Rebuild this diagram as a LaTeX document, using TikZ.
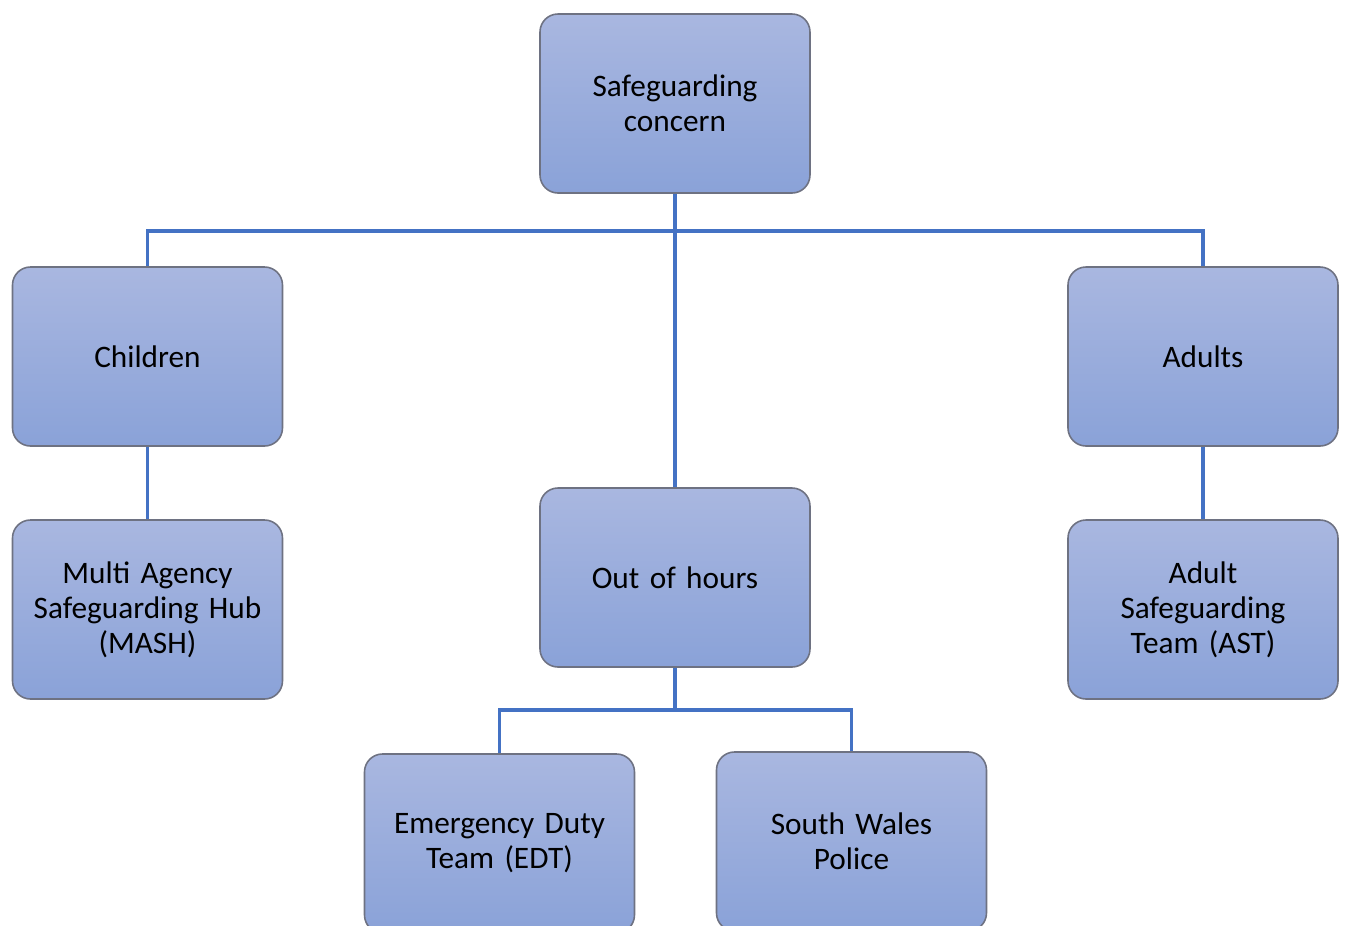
\documentclass[tikz,border=0pt]{standalone}
\usepackage{fontspec}
\setmainfont{Carlito}
\usepackage{tikz}
\usetikzlibrary{positioning}

\definecolor{boxtop}{HTML}{A9B7E0}
\definecolor{boxbot}{HTML}{8AA2D8}
\definecolor{boxline}{HTML}{6E7282}
\definecolor{linkblue}{HTML}{4472C4}

\tikzset{
	box/.style={
		rectangle, rounded corners=0.18cm,
		draw=boxline, line width=0.45pt,
		top color=boxtop, bottom color=boxbot,
		minimum width=2.7cm, minimum height=1.79cm,
		text width=2.6cm, align=center, inner sep=0pt,
		font=\fontsize{8.9}{9.95}\selectfont
	},
	link/.style={draw=linkblue, line width=0.9pt}
}

\begin{document}
\begin{tikzpicture}
		\useasboundingbox (0,0) rectangle (13.47,-9.26);

		\node[box] (concern)  at (6.75,-1.035)  {Safeguarding\\concern};
		\node[box] (children) at (1.475,-3.565) {Children};
		\node[box] (adults)   at (12.03,-3.565) {Adults};
		\node[box] (mash)     at (1.475,-6.095) {Multi Agency\\Safeguarding Hub\\(MASH)};
		\node[box] (ooh)      at (6.75,-5.775)  {Out of hours};
		\node[box] (ast)      at (12.03,-6.095) {Adult\\Safeguarding\\Team (AST)};
		\node[box] (edt)      at (4.995,-8.435) {Emergency Duty\\Team (EDT)};
		\node[box] (swp)      at (8.515,-8.415) {South Wales\\Police};

		\coordinate (split) at (6.75,-2.31);
		\coordinate (fork)  at (6.75,-7.10);

		\draw[link] (concern.south) -- (ooh.north);
		\draw[link] (children.north) |- (split) -| (adults.north);
		\draw[link] (children.south) -- (mash.north);
		\draw[link] (adults.south) -- (ast.north);
		\draw[link] (ooh.south) -- (fork);
		\draw[link] (edt.north) |- (fork) -| (swp.north);
	\end{tikzpicture}
\end{document}
